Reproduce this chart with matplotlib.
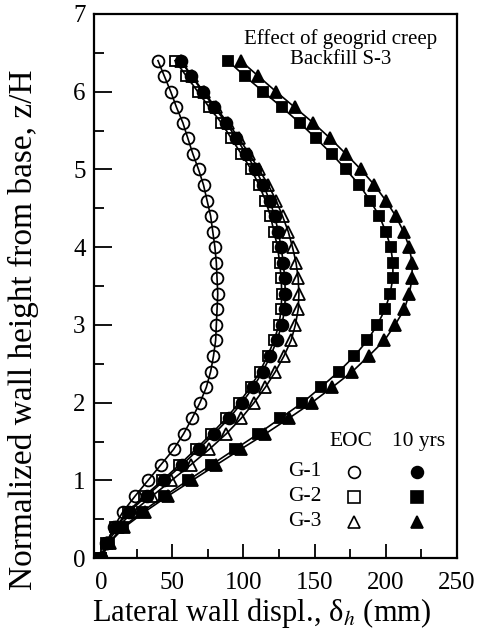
import numpy as np
import matplotlib
matplotlib.use('Agg')
import matplotlib.pyplot as plt

plt.rcParams['font.family'] = ['Liberation Serif', 'DejaVu Serif']
plt.rcParams['mathtext.fontset'] = 'stix'

# z/H levels, bottom to top
z = [0.0, 0.2, 0.4, 0.6, 0.8, 1.0, 1.2, 1.4, 1.6, 1.8, 2.0, 2.2, 2.4, 2.6, 2.8,
     3.0, 3.2, 3.4, 3.6, 3.8, 4.0, 4.2, 4.4, 4.6, 4.8, 5.0, 5.2, 5.4, 5.6,
     5.8, 6.0, 6.2, 6.4]

# lateral displacement (mm), end of construction
g1_eoc = [0, 4, 9, 15.5, 24, 33, 42, 51, 58, 64, 69.5, 74, 77, 79, 80.5,
          81, 81.5, 82, 81.5, 81, 80, 78.5, 77, 74.5, 72, 68.5, 64.5, 61,
          57.5, 53, 49, 44.5, 40]
g2_eoc = [0, 3.5, 10, 19, 30.5, 43, 55, 66.5, 77.5, 88, 97, 105, 111.5,
          117, 121.5, 125, 126.5, 127, 126.5, 125.5, 124, 121.5, 119, 115.5,
          111, 105.5, 98.5, 91.5, 84.5, 76, 68, 60, 52]
g3_eoc = [0, 4.5, 12, 22.5, 36, 49.5, 63, 76, 88, 98.5, 107.5, 115.5, 122.5,
          128.5, 133.5, 136.5, 138.5, 139, 138.5, 137, 134.5, 131.5, 127.5,
          123, 117.5, 111, 104, 97, 89, 80.5, 72, 64, 56]

# lateral displacement (mm), 10 years
g1_10 = [0, 3.5, 10.5, 20, 32, 44.5, 57, 68.5, 79.5, 90, 99, 107, 113.5,
         119, 123.5, 127, 129, 129.5, 129, 128, 126.5, 124.5, 122, 118.5,
         114, 108.5, 102, 95, 88, 79.5, 71.5, 63.5, 56]
g2_10 = [0, 5.5, 15.5, 29, 44.5, 61, 77.5, 94, 110.5, 126, 141.5, 154.5,
         167, 178, 187, 194, 199.5, 203, 205, 205, 203.5, 200, 195.5, 189,
         181.5, 172, 162, 151, 139.5, 127, 114, 101, 89]
g3_10 = [0, 6, 16.5, 31, 47, 64, 81, 98, 115.5, 132, 148, 162.5, 176.5, 188,
         199, 206.5, 213, 216.5, 218.5, 218.5, 216.5, 212.5, 207, 200, 192,
         182.5, 172, 161, 149, 136, 123, 110.5, 98]

fig = plt.figure(figsize=(4.79, 6.35), dpi=100)
ax = fig.add_axes([0.196, 0.121, 0.758, 0.857])

ms = 8.5
kw = dict(color='k', lw=1.2, mew=1.3)
ax.plot(g1_eoc, z, 'o-', ms=ms, mfc='none', **kw)
ax.plot(g2_eoc, z, 's-', ms=ms - 1, mfc='none', **kw)
ax.plot(g3_eoc, z, '^-', ms=ms, mfc='none', **kw)
ax.plot(g1_10, z, 'o-', ms=ms, mfc='k', **kw)
ax.plot(g2_10, z, 's-', ms=ms - 1, mfc='k', **kw)
ax.plot(g3_10, z, '^-', ms=ms, mfc='k', **kw)

ax.set_xlim(-5, 250)
ax.set_ylim(0, 7)
ax.set_xticks(np.arange(0, 251, 50))
ax.set_xticks(np.arange(25, 250, 50), minor=True)
ax.set_yticks(np.arange(0, 8, 1))
ax.set_yticks(np.arange(0.5, 7, 1), minor=True)
ax.tick_params(which='both', direction='in', top=False, right=False,
               labelsize=18, width=1.3)
ax.tick_params(axis='y', which='major', length=13, pad=6)
ax.tick_params(axis='y', which='minor', length=7)
ax.tick_params(axis='x', which='major', length=10, pad=10)
ax.tick_params(axis='x', which='minor', length=6.5)
for s in ax.spines.values():
    s.set_linewidth(1.6)

ax.set_xlabel(r'Lateral wall displ., δ$_h$ (mm)', fontsize=22)
ax.xaxis.set_label_coords(0.463, -0.07)
ax.set_ylabel('Normalized wall height from base, z/H', fontsize=24)
ax.yaxis.set_label_coords(-0.152, 0.42)

ax.text(0.68, 0.973, 'Effect of geogrid creep\nBackfill S-3',
        transform=ax.transAxes, ha='center', va='top', fontsize=15,
        linespacing=1.1)

# legend table
ax.text(0.707, 0.214, 'EOC', transform=ax.transAxes, ha='center',
        va='center', fontsize=15.5)
ax.text(0.893, 0.214, '10 yrs', transform=ax.transAxes, ha='center',
        va='center', fontsize=15.5)
rows = ['G-1', 'G-2', 'G-3']
marks = ['o', 's', '^']
ypos = [0.159, 0.113, 0.067]
for lab, mk, yy in zip(rows, marks, ypos):
    ax.text(0.581, yy, lab, transform=ax.transAxes, ha='center',
            va='center', fontsize=15.5)
    ax.plot([0.716], [yy], mk, transform=ax.transAxes, ms=ms, mfc='none',
            mec='k', mew=1.2, clip_on=False)
    ax.plot([0.891], [yy], mk, transform=ax.transAxes, ms=ms, mfc='k',
            mec='k', mew=1.2, clip_on=False)

fig.savefig('out.png', dpi=100)
